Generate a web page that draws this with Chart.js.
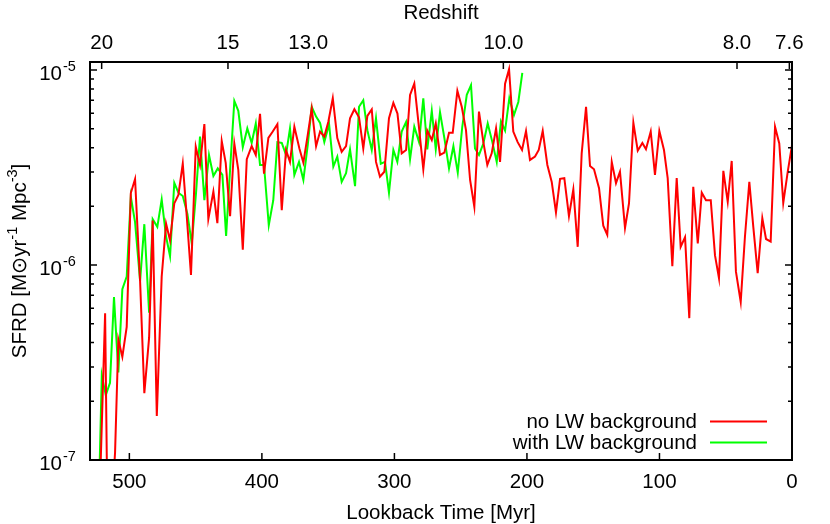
<!DOCTYPE html>
<html>
<head>
<meta charset="utf-8">
<script src="https://cdn.jsdelivr.net/npm/chart.js@4.4.1/dist/chart.umd.min.js"></script>
<style>
  body { margin: 0; background: #fff; }
  canvas { display: block; }
</style>
</head>
<body>
<canvas id="sfrd-chart" width="830" height="524"></canvas>
<script>
// lookback time [Myr] and SFRD [Msun/yr/Mpc^3]
const timeNoLW = [
  522.9, 518.3, 516.5, 513.8, 510.8, 508.3, 505.3, 502.0, 498.9, 495.7,
  491.9, 488.7, 485.1, 482.4, 479.3, 475.6, 472.3, 469.3, 466.1, 463.0,
  459.7, 456.7, 453.5, 449.9, 446.7, 443.4, 440.4, 436.6, 433.6, 430.3,
  427.3, 424.0, 420.8, 417.8, 414.4, 411.4, 407.7, 404.6, 401.4, 398.4,
  395.1, 391.8, 388.3, 385.0, 381.8, 378.8, 375.5, 371.7, 368.7, 365.4,
  362.4, 359.1, 356.1, 352.9, 349.9, 346.5, 343.1, 339.8, 336.5, 333.5,
  330.2, 326.7, 323.5, 320.4, 317.1, 313.9, 310.9, 307.6, 304.1, 300.8,
  297.7, 294.5, 291.2, 288.2, 285.0, 281.4, 278.2, 275.2, 271.8, 268.8,
  265.6, 262.3, 258.8, 256.0, 252.5, 249.2, 246.0, 242.9, 239.7, 236.2,
  232.9, 229.9, 226.6, 223.3, 220.3, 216.5, 213.5, 210.3, 207.0, 203.7,
  200.7, 197.7, 193.9, 191.1, 188.1, 184.6, 181.3, 178.1, 175.0, 171.8,
  168.3, 165.0, 161.7, 158.7, 155.4, 152.4, 149.4, 145.6, 142.4, 139.4,
  136.0, 132.8, 129.8, 126.0, 123.0, 119.7, 116.4, 112.9, 110.2, 106.6,
  103.4, 100.1, 96.6, 93.8, 90.3, 87.0, 84.0, 80.7, 77.5, 74.5,
  71.1, 68.1, 64.9, 61.3, 58.1, 55.1, 51.8, 48.5, 45.5, 42.3,
  38.7, 35.5, 32.2, 29.2, 25.9, 22.4, 19.6, 16.1, 12.8, 9.6,
  6.6, 3.2, 0
];
const sfrdNoLW = [
  5e-8, 5.66e-7, 5e-8, 5e-8, 1.09e-7, 4.15e-7, 3.38e-7, 4.82e-7, 2.34e-6, 2.76e-6,
  8.26e-7, 2.20e-7, 4.24e-7, 1.69e-6, 1.68e-7, 8.73e-7, 1.63e-6, 1.34e-6, 2.07e-6, 2.29e-6,
  3.31e-6, 1.78e-6, 8.89e-7, 4.04e-6, 3.26e-6, 5.28e-6, 1.72e-6, 2.38e-6, 1.64e-6, 4.32e-6,
  3.34e-6, 1.78e-6, 4.20e-6, 3.08e-6, 1.20e-6, 3.49e-6, 4.07e-6, 3.67e-6, 5.96e-6, 2.94e-6,
  4.49e-6, 4.84e-6, 5.28e-6, 1.91e-6, 3.89e-6, 3.38e-6, 5.12e-6, 3.96e-6, 3.35e-6, 4.65e-6,
  6.36e-6, 4.07e-6, 4.84e-6, 4.56e-6, 5.42e-6, 7.17e-6, 4.48e-6, 3.81e-6, 4.07e-6, 5.66e-6,
  6.30e-6, 5.73e-6, 3.96e-6, 5.82e-6, 6.28e-6, 3.38e-6, 2.84e-6, 3.01e-6, 5.66e-6, 6.78e-6,
  5.98e-6, 3.74e-6, 3.89e-6, 7.46e-6, 8.52e-6, 5.02e-6, 3.10e-6, 4.89e-6, 4.38e-6, 5.32e-6,
  3.67e-6, 3.77e-6, 4.77e-6, 4.77e-6, 7.83e-6, 6.48e-6, 4.92e-6, 2.73e-6, 1.99e-6, 6.12e-6,
  4.27e-6, 3.26e-6, 3.74e-6, 5.02e-6, 3.38e-6, 8.52e-6, 1.01e-5, 4.84e-6, 4.27e-6, 3.89e-6,
  4.87e-6, 3.46e-6, 3.60e-6, 3.89e-6, 4.87e-6, 3.26e-6, 2.67e-6, 1.86e-6, 2.77e-6, 2.79e-6,
  1.78e-6, 2.44e-6, 1.24e-6, 3.74e-6, 6.48e-6, 3.22e-6, 3.10e-6, 2.48e-6, 1.59e-6, 1.43e-6,
  3.38e-6, 2.63e-6, 3.01e-6, 1.55e-6, 2.07e-6, 5.36e-6, 3.86e-6, 4.23e-6, 3.93e-6, 4.84e-6,
  2.90e-6, 4.87e-6, 3.89e-6, 2.79e-6, 9.87e-7, 2.79e-6, 1.24e-6, 1.39e-6, 5.34e-7, 2.52e-6,
  1.29e-6, 2.35e-6, 2.15e-6, 2.15e-6, 1.12e-6, 8.57e-7, 3.04e-6, 2.11e-6, 3.42e-6, 9.25e-7,
  6.47e-7, 1.40e-6, 2.67e-6, 1.57e-6, 9.08e-7, 1.74e-6, 1.36e-6, 1.32e-6, 5.12e-6, 4.20e-6,
  2.08e-6, 3.01e-6, 4.12e-6
];
const timeLW = [
  523.4, 520.8, 517.8, 514.6, 511.6, 508.3, 505.3, 502.0, 498.9, 495.7,
  491.9, 488.7, 485.1, 482.4, 478.9, 475.6, 472.3, 469.3, 466.1, 463.0,
  459.7, 456.2, 452.9, 449.7, 446.7, 443.4, 439.9, 436.6, 433.3, 429.8,
  427.0, 424.0, 420.8, 417.8, 414.4, 411.0, 407.7, 404.6, 401.4, 398.4,
  394.8, 391.4, 388.3, 385.0, 381.8, 378.8, 375.5, 372.0, 368.7, 365.4,
  362.4, 359.1, 356.1, 352.9, 349.3, 346.1, 343.1, 339.8, 336.5, 333.5,
  329.7, 326.7, 323.5, 320.4, 317.1, 313.9, 310.3, 307.1, 304.1, 300.8,
  297.8, 294.5, 291.2, 288.2, 285.0, 281.4, 278.2, 275.2, 271.8, 268.8,
  265.6, 262.3, 258.8, 255.5, 252.2, 248.8, 245.4, 242.2, 239.2, 236.2,
  232.9, 229.6, 226.1, 222.8, 219.6, 216.5, 213.3, 209.8, 206.5, 203.5
];
const sfrdLW = [
  5e-8, 2.72e-7, 2.15e-7, 2.49e-7, 6.85e-7, 2.81e-7, 7.51e-7, 8.73e-7, 2.24e-6, 1.66e-6,
  8.29e-7, 1.62e-6, 5.70e-7, 1.72e-6, 1.57e-6, 2.17e-6, 1.40e-6, 1.11e-6, 2.64e-6, 2.35e-6,
  2.26e-6, 1.83e-6, 1.29e-6, 2.34e-6, 4.56e-6, 2.15e-6, 3.67e-6, 2.86e-6, 3.13e-6, 2.90e-6,
  1.41e-6, 3.08e-6, 6.94e-6, 6.18e-6, 4.02e-6, 5.02e-6, 4.23e-6, 5.32e-6, 3.26e-6, 3.26e-6,
  1.60e-6, 2.15e-6, 4.27e-6, 4.23e-6, 3.67e-6, 5.02e-6, 2.90e-6, 3.38e-6, 2.73e-6, 4.12e-6,
  6.48e-6, 5.77e-6, 5.36e-6, 4.27e-6, 5.28e-6, 3.20e-6, 3.60e-6, 2.67e-6, 2.96e-6, 3.92e-6,
  2.54e-6, 6.48e-6, 7.00e-6, 4.92e-6, 3.89e-6, 5.66e-6, 3.31e-6, 3.38e-6, 2.35e-6, 3.89e-6,
  3.38e-6, 4.84e-6, 5.42e-6, 3.49e-6, 5.12e-6, 4.27e-6, 7.17e-6, 3.92e-6, 6.18e-6, 3.92e-6,
  6.08e-6, 4.48e-6, 3.13e-6, 4.07e-6, 2.98e-6, 5.12e-6, 7.46e-6, 8.36e-6, 3.96e-6, 3.67e-6,
  4.20e-6, 5.32e-6, 4.27e-6, 3.38e-6, 5.46e-6, 4.89e-6, 7.17e-6, 5.88e-6, 6.86e-6, 9.68e-6
];

const lookbackTicks = [0, 100, 200, 300, 400, 500];
const sfrdDecades = [-7, -6, -5];
const redshiftLabels = ["20", "15", "13.0", "10.0", "8.0", "7.6"];
const redshiftLookback = [520.9, 425.6, 365.0, 217.8, 41.5, 2.0];
const seriesNames = ["no LW background", "with LW background"];
const seriesColors = ["#ff0000", "#00ff00"];

const FONT = '"Liberation Sans", Arial, "DejaVu Sans", sans-serif';
const BIG = "20.5px " + FONT;
const SMALL = "14.5px " + FONT;

function toPoints(xs, ys) {
  return xs.map((x, i) => ({ x: x, y: ys[i] }));
}

// writes pieces left to right; pieces flagged sup are smaller and raised
function drawPieces(ctx, x, y, pieces) {
  pieces.forEach(p => {
    ctx.font = p.sup ? SMALL : BIG;
    ctx.fillText(p.text, x, p.sup ? y - 9 : y);
    x += ctx.measureText(p.text).width;
  });
  return x;
}

function piecesWidth(ctx, pieces) {
  let w = 0;
  pieces.forEach(p => {
    ctx.font = p.sup ? SMALL : BIG;
    w += ctx.measureText(p.text).width;
  });
  return w;
}

// gnuplot look: heavy frame, inward ticks, 10^n labels, key bottom right
const gnuplotFrame = {
  id: "gnuplotFrame",
  afterDatasetsDraw(chart) {
    const ctx = chart.ctx;
    const a = chart.chartArea;
    const xs = chart.scales.x;
    const ys = chart.scales.y;
    ctx.save();
    ctx.strokeStyle = "#000";
    ctx.fillStyle = "#000";
    ctx.lineWidth = 2;
    ctx.strokeRect(a.left, a.top, a.right - a.left, a.bottom - a.top);

    ctx.lineWidth = 1.5;
    ctx.textAlign = "center";
    ctx.textBaseline = "alphabetic";
    ctx.font = BIG;
    lookbackTicks.forEach(v => {
      const px = xs.getPixelForValue(v);
      ctx.beginPath();
      ctx.moveTo(px, a.bottom);
      ctx.lineTo(px, a.bottom - 7);
      ctx.stroke();
      ctx.fillText(String(v), px, 488);
    });
    redshiftLookback.forEach((v, i) => {
      const px = xs.getPixelForValue(v);
      ctx.beginPath();
      ctx.moveTo(px, a.top);
      ctx.lineTo(px, a.top + 7);
      ctx.stroke();
      ctx.fillText(redshiftLabels[i], px, 49);
    });

    sfrdDecades.forEach(e => {
      for (let m = 1; m <= 9; m++) {
        const v = m * Math.pow(10, e);
        if (v > ys.max * 1.0001) break;
        if (m > 1 && e === sfrdDecades[sfrdDecades.length - 1] && v > ys.max) break;
        const py = ys.getPixelForValue(v);
        const len = m === 1 ? 7 : 4;
        ctx.beginPath();
        ctx.moveTo(a.left, py);
        ctx.lineTo(a.left + len, py);
        ctx.moveTo(a.right, py);
        ctx.lineTo(a.right - len, py);
        ctx.stroke();
      }
      const py = ys.getPixelForValue(Math.pow(10, e));
      ctx.textAlign = "right";
      ctx.font = BIG;
      ctx.fillText("10", 62, py + 9.5);
      ctx.textAlign = "left";
      ctx.font = SMALL;
      ctx.fillText("-" + Math.abs(e), 63, py + 0.5);
    });

    // axis titles
    ctx.textAlign = "center";
    ctx.font = BIG;
    ctx.fillText("Redshift", (a.left + a.right) / 2, 18.5);
    ctx.fillText("Lookback Time [Myr]", (a.left + a.right) / 2, 519);

    const yTitle = [
      { text: "SFRD [M" }, { text: "\u2299" }, { text: "yr" },
      { text: "-1", sup: true }, { text: " Mpc" }, { text: "-3", sup: true },
      { text: "]" }
    ];
    ctx.save();
    ctx.translate(25.5, (a.top + a.bottom) / 2);
    ctx.rotate(-Math.PI / 2);
    ctx.textAlign = "left";
    drawPieces(ctx, -piecesWidth(ctx, yTitle) / 2, 0, yTitle);
    ctx.restore();

    // key
    ctx.font = BIG;
    ctx.textAlign = "right";
    ctx.lineWidth = 2;
    chart.data.datasets.forEach((ds, i) => {
      const base = 427.5 + i * 21;
      ctx.fillText(ds.label, 697, base);
      ctx.strokeStyle = ds.borderColor;
      ctx.beginPath();
      ctx.moveTo(710, base - 6);
      ctx.lineTo(767, base - 6);
      ctx.stroke();
    });
    ctx.restore();
  }
};

new Chart(document.getElementById("sfrd-chart"), {
  type: "line",
  data: {
    datasets: [
      {
        label: seriesNames[0],
        data: toPoints(timeNoLW, sfrdNoLW),
        borderColor: seriesColors[0],
        borderWidth: 2,
        pointRadius: 0,
        fill: false,
        tension: 0,
      },
      {
        label: seriesNames[1],
        data: toPoints(timeLW, sfrdLW),
        borderColor: seriesColors[1],
        borderWidth: 2,
        pointRadius: 0,
        fill: false,
        tension: 0,
      },
    ],
  },
  options: {
    responsive: false,
    animation: false,
    devicePixelRatio: 1,
    layout: { padding: { left: 90, right: 38, top: 62, bottom: 64 } },
    plugins: { legend: { display: false }, tooltip: { enabled: false } },
    scales: {
      x: { type: "linear", min: 0, max: 529.7, reverse: true, display: false },
      y: { type: "logarithmic", min: 1e-7, max: 1.1e-5, display: false },
    },
  },
  plugins: [gnuplotFrame],
});
</script>
</body>
</html>
